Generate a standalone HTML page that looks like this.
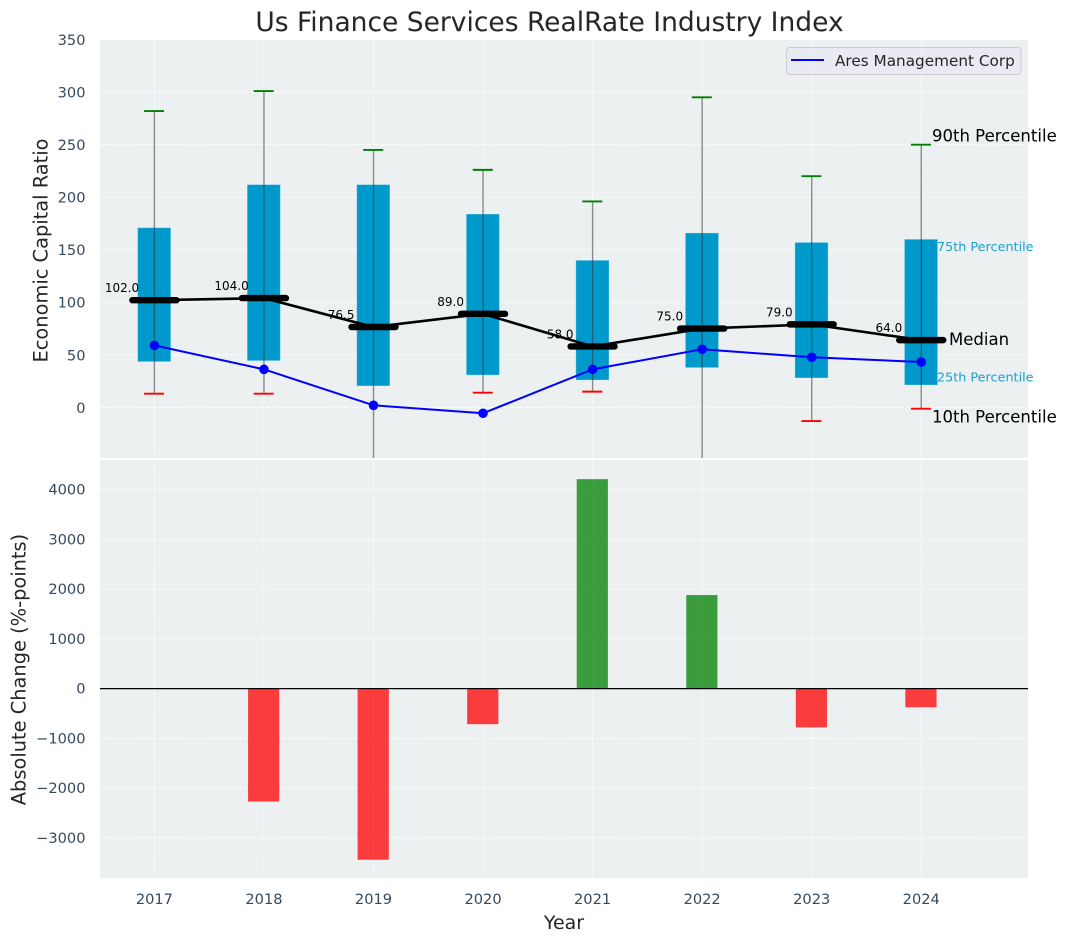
<!DOCTYPE html>
<html lang="en">
<head>
<meta charset="utf-8">
<title>Us Finance Services RealRate Industry Index</title>
<style>
html,body{margin:0;padding:0;background:#fff;width:1067px;height:942px;overflow:hidden}
svg{display:block;font-family:"DejaVu Sans","Liberation Sans",sans-serif}
</style>
</head>
<body>
<svg id="chart" xmlns="http://www.w3.org/2000/svg" width="1067" height="942" viewBox="0 0 1067 942">
  <defs>
    <clipPath id="top-clip"><rect x="100" y="40" width="928" height="418"></rect></clipPath>
    <clipPath id="bottom-clip"><rect x="100" y="460" width="928" height="418"></rect></clipPath>
  </defs>
  <rect x="100" y="40" width="928" height="418" fill="#ecf0f1"></rect>
  <rect x="100" y="460" width="928" height="418" fill="#ecf0f1"></rect>
  <g id="grid"></g>
  <g id="top-marks" clip-path="url(#top-clip)"></g>
  <g id="bottom-marks" clip-path="url(#bottom-clip)"></g>
  <g id="annotations"></g>
  <g id="ticks"></g>
  <text x="549.5" y="31" text-anchor="middle" font-size="26.5" fill="#262626">Us Finance Services RealRate Industry Index</text>
  <text transform="translate(47.5 250.5) rotate(-90)" text-anchor="middle" font-size="19.4" fill="#262626">Economic Capital Ratio</text>
  <text transform="translate(25.5 669.5) rotate(-90)" text-anchor="middle" font-size="19.4" fill="#262626">Absolute Change (%-points)</text>
  <text x="564" y="929" text-anchor="middle" font-size="19" fill="#262626">Year</text>
  <g>
    <rect x="786.5" y="47.5" width="234.5" height="27" rx="3.5" fill="#eaeaf2" fill-opacity="0.8" stroke="#cccccc" stroke-width="1"></rect>
    <line x1="791" y1="60" x2="824" y2="60" stroke="#0000ff" stroke-width="2"></line>
    <text x="835" y="66" font-size="15.25" fill="#262626">Ares Management Corp</text>
  </g>
</svg>
<script>
const years = [2017, 2018, 2019, 2020, 2021, 2022, 2023, 2024];
const p10 = [13, 13, -60, 14, 15, -70, -13, -1.2];
const p25 = [43.5, 44.4, 20.4, 30.8, 26, 37.8, 28, 21.3];
const medians = [102, 104, 76.5, 89, 58, 75, 79, 64];
const p75 = [171, 212, 212, 184, 140, 166, 157, 160];
const p90 = [282, 301, 245, 226, 196, 295, 220, 250];
const companyValues = [59, 36.2, 2, -5.6, 36.2, 55.3, 47.7, 43.2];
const absoluteChange = [null, -2270, -3440, -715, 4210, 1880, -780, -375];
const topTicks = [0, 50, 100, 150, 200, 250, 300, 350];
const bottomTicks = [-3000, -2000, -1000, 0, 1000, 2000, 3000, 4000];

const NS = 'http://www.w3.org/2000/svg';
const X0 = 100, X1 = 1028;
const TOP_T = 40, TOP_B = 458, BOT_T = 460, BOT_B = 878;
function xScale(v) { return 154.4 + (v - 2017) * 109.55; }
function yTop(v) { return 407.4 - v * 1.051; }
function yBottom(v) { return 688.6 - v * 0.04975; }
function make(parent, tag, attrs, text) {
  const n = document.createElementNS(NS, tag);
  for (const k in attrs) n.setAttribute(k, attrs[k]);
  if (text !== undefined) n.textContent = text;
  parent.appendChild(n);
  return n;
}
const grid = document.getElementById('grid');
const topMarks = document.getElementById('top-marks');
const bottomMarks = document.getElementById('bottom-marks');
const notes = document.getElementById('annotations');
const ticks = document.getElementById('ticks');
const GRID = { stroke: '#ffffff', 'stroke-width': 1, 'stroke-dasharray': '5 2.2', 'stroke-opacity': 0.85 };
const TICK = { 'font-size': 14.6, fill: '#34495e' };

topTicks.forEach(function (t) {
  const g = make(grid, 'line', Object.assign({ x1: X0, x2: X1, y1: yTop(t), y2: yTop(t) }, GRID));
  
  
  const l = make(ticks, 'text', Object.assign({ x: 85.5, y: yTop(t) + 5.4, 'text-anchor': 'end' }, TICK), String(t));
  
  
});
bottomTicks.forEach(function (t) {
  const g = make(grid, 'line', Object.assign({ x1: X0, x2: X1, y1: yBottom(t), y2: yBottom(t) }, GRID));
  
  
  const label = t < 0 ? '\u2212' + Math.abs(t) : String(t);
  const l = make(ticks, 'text', Object.assign({ x: 85.5, y: yBottom(t) + 5, 'text-anchor': 'end' }, TICK), label);
  
  
});
years.forEach(function (yr) {
  const x = xScale(yr);
  const g1 = make(grid, 'line', Object.assign({ x1: x, x2: x, y1: TOP_T, y2: TOP_B }, GRID));
  
  
  const g2 = make(grid, 'line', Object.assign({ x1: x, x2: x, y1: BOT_T, y2: BOT_B }, GRID));
  
  
  const l = make(ticks, 'text', Object.assign({ x: x, y: 904, 'text-anchor': 'middle' }, TICK), String(yr));
  
  
});

// interquartile boxes
years.forEach(function (yr, i) {
  const x = xScale(yr);
  const b = make(topMarks, 'rect', { x: x - 16.8, width: 33.2, y: yTop(p75[i]), height: yTop(p25[i]) - yTop(p75[i]), fill: '#0099cc', stroke: '#ffffff', 'stroke-opacity': 0.3, 'stroke-width': 1 });
  
  
});
// whiskers and caps
years.forEach(function (yr, i) {
  const x = xScale(yr);
  const w = make(topMarks, 'line', { x1: x, x2: x, y1: yTop(p90[i]), y2: yTop(p10[i]), stroke: '#333333', 'stroke-opacity': 0.55, 'stroke-width': 1.4 });
  
  
  const c1 = make(topMarks, 'line', { x1: x - 10.3, x2: x + 9.7, y1: yTop(p90[i]), y2: yTop(p90[i]), stroke: '#008000', 'stroke-width': 1.9 });
  
  
  const c2 = make(topMarks, 'line', { x1: x - 10.3, x2: x + 9.7, y1: yTop(p10[i]), y2: yTop(p10[i]), stroke: '#ff0000', 'stroke-width': 1.9 });
  
  
});
// median labels sit beneath the lines
years.forEach(function (yr, i) {
  const t = make(topMarks, 'text', { x: xScale(yr) - 32.4, y: yTop(medians[i]) - 8, 'text-anchor': 'middle', 'font-size': 12, fill: '#000000' }, medians[i].toFixed(1));
  
  
});
// median trend line
const medPts = years.map(function (yr, i) { return xScale(yr) + ',' + yTop(medians[i]); }).join(' ');
const medLine = make(topMarks, 'polyline', { points: medPts, fill: 'none', stroke: '#000000', 'stroke-width': 2.6 });


years.forEach(function (yr, i) {
  const x = xScale(yr);
  const m = make(topMarks, 'line', { x1: x - 22, x2: x + 22, y1: yTop(medians[i]), y2: yTop(medians[i]), stroke: '#000000', 'stroke-width': 6.4, 'stroke-linecap': 'round' });
  
  
});
// company series
const coPts = years.map(function (yr, i) { return xScale(yr) + ',' + yTop(companyValues[i]); }).join(' ');
const coLine = make(topMarks, 'polyline', { points: coPts, fill: 'none', stroke: '#0000ff', 'stroke-width': 2 });


years.forEach(function (yr, i) {
  const pt = make(topMarks, 'circle', { cx: xScale(yr), cy: yTop(companyValues[i]), r: 4.8, fill: '#0000ff' });
  
  
});

// percentile annotations on the last year
const last = years.length - 1;
const xLast = xScale(years[last]);
const n90 = make(notes, 'text', { x: xLast + 10.7, y: yTop(p90[last]) - 3, 'font-size': 16.55, fill: '#000000' }, '90th Percentile');


const n75 = make(notes, 'text', { x: xLast + 15.7, y: yTop(p75[last]) + 11.8, 'font-size': 12.8, fill: '#0099cc', 'fill-opacity': 0.9 }, '75th Percentile');


const nMed = make(notes, 'text', { x: xLast + 27.7, y: yTop(medians[last]) + 5, 'font-size': 16.55, fill: '#000000' }, 'Median');


const n25 = make(notes, 'text', { x: xLast + 15.7, y: yTop(p25[last]) - 3.3, 'font-size': 12.8, fill: '#0099cc', 'fill-opacity': 0.9 }, '25th Percentile');


const n10 = make(notes, 'text', { x: xLast + 10.7, y: yTop(p10[last]) + 14, 'font-size': 16.55, fill: '#000000' }, '10th Percentile');



// change bars
years.forEach(function (yr, i) {
  const v = absoluteChange[i];
  if (v === null) return;
  const y0 = yBottom(0), yv = yBottom(v);
  const bar = make(bottomMarks, 'rect', { x: xScale(yr) - 15.9, width: 31.2, y: Math.min(y0, yv), height: Math.abs(yv - y0), fill: v < 0 ? '#ff0000' : '#008000', 'fill-opacity': 0.75 });
  
  
});
const zero = make(bottomMarks, 'line', { x1: X0, x2: X1, y1: yBottom(0), y2: yBottom(0), stroke: '#000000', 'stroke-width': 1.3 });


</script>
</body>
</html>
